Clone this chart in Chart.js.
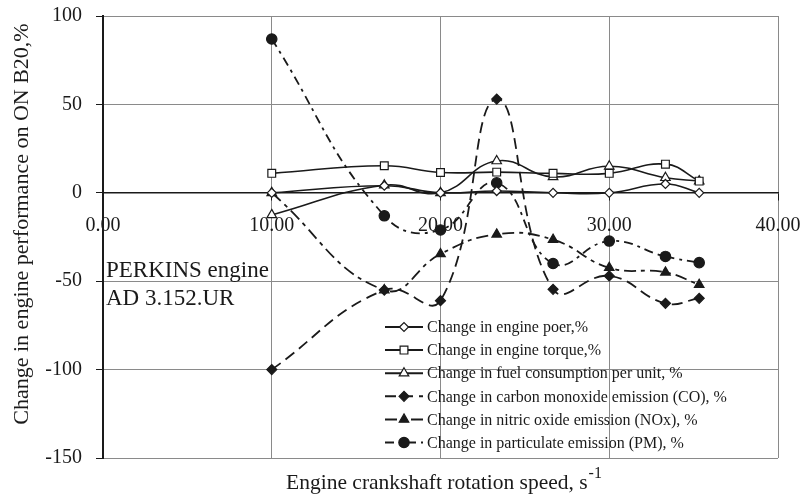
<!DOCTYPE html>
<html>
<head>
<meta charset="utf-8">
<script src="https://cdn.jsdelivr.net/npm/chart.js@4.4.1/dist/chart.umd.min.js"></script>
<style>
  html, body { margin: 0; padding: 0; background: #fff; }
  #wrap { width: 801px; height: 498px; }
</style>
</head>
<body>
<div id="wrap"><canvas id="engineChart" width="801" height="498"></canvas></div>
<script>
// Engine crankshaft rotation speed, s^-1
const speed = [10, 16.67, 20, 23.33, 26.67, 30, 33.33, 35.33];

// Change in engine performance on ON B20, %
const powerChange = [0, 4, 0, 1, 0, 0, 5, 0];
const torqueChange = [11, 15.3, 11.5, 11.7, 11, 11, 16.2, 6.6];
const fuelChange = [-12.5, 4.3, 0, 18, 9, 15, 8.5, 6.6];
const coChange = [-100, -55, -61, 53, -54.6, -47, -62.5, -59.7];
const noxChange = [0, -55, -34.6, -23.5, -26.5, -42.4, -45, -52];
const pmChange = [87, -13, -21, 5.6, -40, -27.3, -36, -39.5];

const xTicks = [0, 10, 20, 30, 40];
const yTicks = [-150, -100, -50, 0, 50, 100];

const serif = "'Liberation Serif', 'Times New Roman', serif";
const ink = '#1a1a1a';
const gridGrey = '#8a8a8a';

function series(label, values, style) {
  return Object.assign({
    label: label,
    data: speed.map((x, i) => ({ x: x, y: values[i] })),
    showLine: true,
    borderColor: ink,
    backgroundColor: ink,
    pointBorderColor: ink,
    pointBackgroundColor: ink,
    borderWidth: 1.6,
    pointBorderWidth: 1.2,
    tension: 0.45,
    borderDash: [],
  }, style);
}

// legend drawn inside the plot, like the original
const insideLegend = {
  id: 'insideLegend',
  afterDraw(chart) {
    const ctx = chart.ctx;
    const area = chart.chartArea;
    const x0 = area.left + 282, x1 = area.left + 320, xt = area.left + 324;
    const top = 327, gap = 23.1;
    chart.data.datasets.forEach((ds, i) => {
      const y = top + i * gap;
      ctx.save();
      ctx.strokeStyle = ink;
      ctx.lineWidth = 2;
      ctx.setLineDash(ds.borderDash);
      ctx.beginPath();
      ctx.moveTo(x0, y);
      ctx.lineTo(x1, y);
      ctx.stroke();
      ctx.setLineDash([]);
      ctx.fillStyle = ds.pointBackgroundColor;
      ctx.lineWidth = ds.pointBorderWidth;
      Chart.helpers.drawPoint(ctx, {
        pointStyle: ds.pointStyle,
        rotation: 0,
        radius: ds.pointRadius,
        borderWidth: ds.pointBorderWidth,
      }, (x0 + x1) / 2, y);
      ctx.fillStyle = ink;
      ctx.font = '16px ' + serif;
      ctx.textBaseline = 'middle';
      ctx.textAlign = 'left';
      ctx.fillText(ds.label, xt, y + 1);
      ctx.restore();
    });
  }
};

// axis titles and engine note
const titles = {
  id: 'titles',
  afterDraw(chart) {
    const ctx = chart.ctx;
    const area = chart.chartArea;
    ctx.save();
    ctx.fillStyle = ink;

    ctx.font = '23px ' + serif;
    ctx.textAlign = 'left';
    ctx.textBaseline = 'alphabetic';
    ctx.fillText('PERKINS engine', area.left + 3, 277);
    ctx.fillText('AD 3.152.UR', area.left + 3, 305);

    // y title
    ctx.save();
    ctx.translate(22, 224);
    ctx.rotate(-Math.PI / 2);
    ctx.font = '22px ' + serif;
    ctx.textAlign = 'center';
    ctx.textBaseline = 'middle';
    ctx.fillText('Change in engine performance on ON B20,%', 0, 0);
    ctx.restore();

    // x title with superscript
    const main = 'Engine crankshaft rotation speed, s';
    const sup = '-1';
    ctx.font = '21.5px ' + serif;
    const wMain = ctx.measureText(main).width;
    ctx.font = '16px ' + serif;
    const wSup = ctx.measureText(sup).width;
    const cx = (area.left + area.right) / 2 + 3;
    const start = cx - (wMain + wSup) / 2;
    ctx.textAlign = 'left';
    ctx.textBaseline = 'alphabetic';
    ctx.font = '21.5px ' + serif;
    ctx.fillText(main, start, 489);
    ctx.font = '16px ' + serif;
    ctx.fillText(sup, start + wMain + 1, 478);
    ctx.restore();
  }
};

new Chart(document.getElementById('engineChart'), {
  type: 'scatter',
  data: {
    datasets: [
      series('Change in engine poer,%', powerChange, {
        pointStyle: 'rectRot', pointRadius: 4.5, pointBackgroundColor: '#fff',
      }),
      series('Change in engine torque,%', torqueChange, {
        pointStyle: 'rect', pointRadius: 5.5, pointBackgroundColor: '#fff',
      }),
      series('Change in fuel consumption per unit, %', fuelChange, {
        pointStyle: 'triangle', pointRadius: 5.5, pointBackgroundColor: '#fff',
      }),
      series('Change in carbon monoxide emission (CO), %', coChange, {
        pointStyle: 'rectRot', pointRadius: 5, borderDash: [11, 6], borderWidth: 1.8,
      }),
      series('Change in nitric oxide emission (NOx), %', noxChange, {
        pointStyle: 'triangle', pointRadius: 5.5, borderDash: [12, 5, 4, 5], borderWidth: 1.8,
      }),
      series('Change in particulate emission (PM), %', pmChange, {
        pointStyle: 'circle', pointRadius: 5.2, borderDash: [9, 5, 3, 5], borderWidth: 1.8,
      }),
    ],
  },
  options: {
    responsive: false,
    animation: false,
    layout: { padding: { left: 0, top: 16, right: 23, bottom: 40 } },
    plugins: {
      legend: { display: false },
      tooltip: { enabled: false },
    },
    scales: {
      x: {
        type: 'linear',
        min: 0,
        max: 40,
        position: { y: 0 },
        afterBuildTicks: (scale) => { scale.ticks = xTicks.map(v => ({ value: v })); },
        afterFit: (scale) => { scale.paddingLeft = 0; scale.paddingRight = 0; },
        border: { display: true, color: ink, width: 1.5 },
        grid: { color: gridGrey, lineWidth: 1, tickColor: ink, tickLength: 7 },
        ticks: {
          color: ink,
          padding: 14,
          font: { family: serif, size: 20 },
          callback: (v) => Number(v).toFixed(2),
        },
      },
      y: {
        type: 'linear',
        min: -150,
        max: 100,
        afterBuildTicks: (scale) => { scale.ticks = yTicks.map(v => ({ value: v })); },
        afterFit: (scale) => {
          scale.width = 103;
          scale.paddingTop = 0;
          scale.paddingBottom = 0;
        },
        border: { display: true, color: ink, width: 2 },
        grid: { color: gridGrey, lineWidth: 1, tickColor: ink, tickLength: 7 },
        ticks: {
          color: ink,
          padding: 14,
          font: { family: serif, size: 20 },
        },
      },
    },
  },
  plugins: [insideLegend, titles],
});
</script>
</body>
</html>
